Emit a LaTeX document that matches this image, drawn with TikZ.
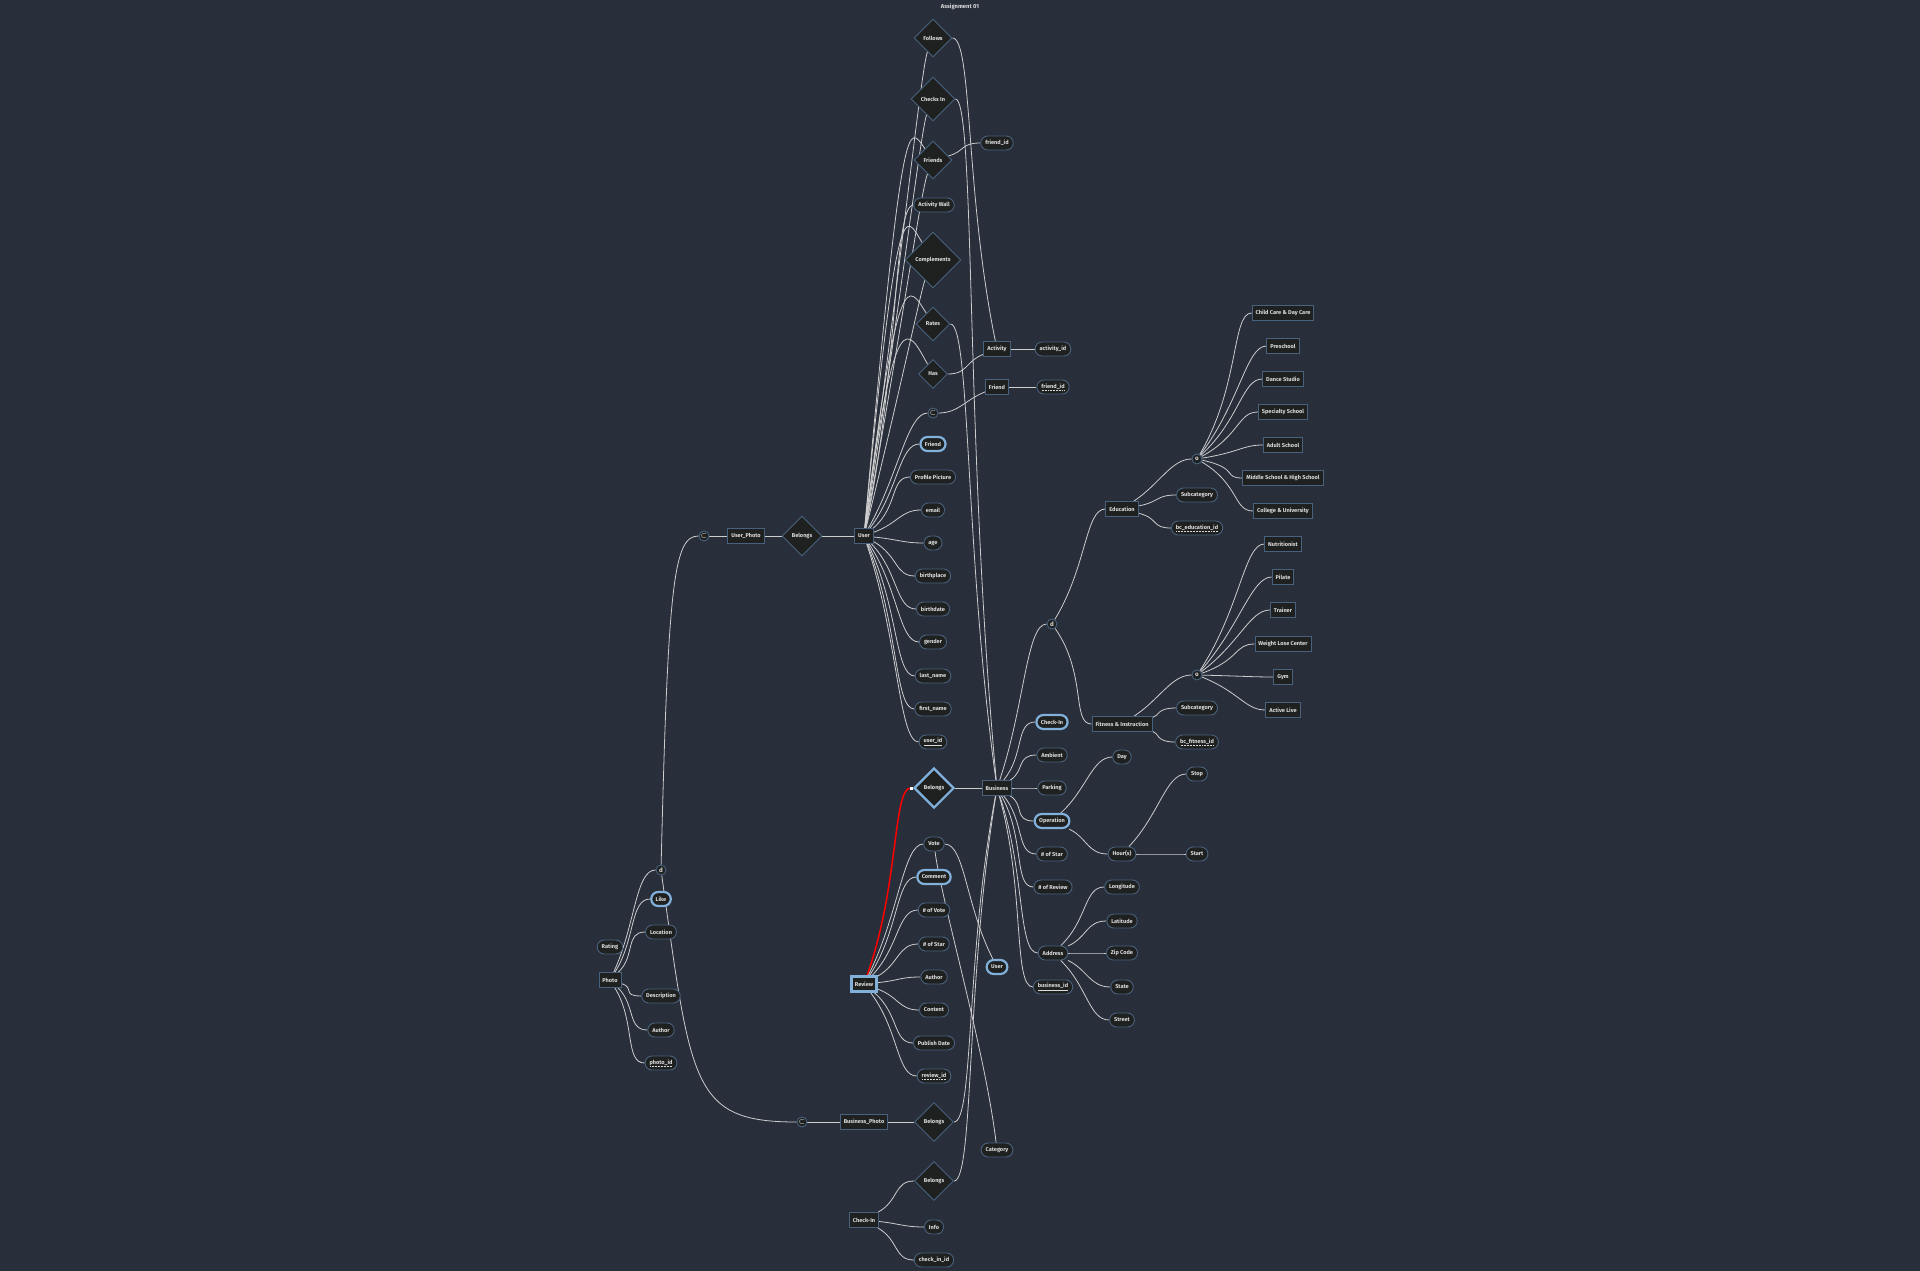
\documentclass[tikz,border=0pt]{standalone}
\usepackage{fontspec}
\setmainfont{Fira Sans}
\usetikzlibrary{shapes.geometric,calc,arrows.meta}
\definecolor{bgcol}{RGB}{41,46,59}
\definecolor{boxfill}{RGB}{31,32,32}
\definecolor{boxline}{RGB}{72,98,126}
\definecolor{hiline}{RGB}{129,177,219}
\definecolor{linkcol}{RGB}{205,205,205}
\definecolor{txtcol}{RGB}{218,218,218}
\pgfdeclarelayer{bglayer}
\pgfdeclarelayer{links}
\pgfsetlayers{bglayer,links,main}
% key underlines
\newcommand{\solidkey}[1]{\underline{#1}}
\newcommand{\dotkey}[1]{\setbox0=\hbox{#1}\rlap{\raisebox{-1.3pt}{\hbox to \wd0{\xleaders\hbox to 1.5pt{\hss\vrule width 0.7pt height 0.35pt\hss}\hfill}}}\box0}
\newcommand{\subsym}{{\boldmath$\subset$}}
\tikzstyle{base}=[fill=boxfill, draw=boxline, line width=0.9pt, text=txtcol, font=\fontsize{5.6}{6}\selectfont\bfseries, inner ysep=0pt]
\tikzstyle{entity}=[base, rectangle, minimum height=15, inner xsep=3.5pt]
\tikzstyle{attr}=[base, rectangle, rounded corners=7pt, minimum height=14, inner xsep=4.5pt]
\tikzstyle{marker}=[base, circle, inner sep=0pt, minimum size=10, font=\fontsize{6.2}{6}\selectfont\bfseries]
\tikzstyle{multi}=[draw=hiline, line width=2.2pt]
\tikzstyle{link}=[draw=linkcol, line width=0.8pt]
\tikzstyle{fanin}=[to path={.. controls ($(\tikztostart)!0.5!(\tikztotarget)$) and ($(\tikztotarget.west)+(-20,0)$) .. (\tikztotarget)}]
\tikzstyle{fanrel}=[to path={.. controls ($(\tikztostart)!0.5!(\tikztotarget)$) and ($(\tikztotarget)+(-12,30)$) .. (\tikztotarget)}]
\tikzstyle{fanout}=[to path={.. controls ($(\tikztostart.east)+(20,0)$) and ($(\tikztostart)!0.5!(\tikztotarget)$) .. (\tikztotarget)}]
\tikzset{rel/.style={base, diamond, inner sep=0pt, minimum width=#1, minimum height=#1}}

\begin{document}
\begin{tikzpicture}[x=1pt, y=-1pt]
  \begin{pgfonlayer}{bglayer}
    \fill[bgcol] (0,0) rectangle (1920,1271);
  \end{pgfonlayer}
  \useasboundingbox (0,0) rectangle (1920,1271);
  \node[text=txtcol, font=\fontsize{5.8}{6}\selectfont\bfseries] (title) at (960,7) {Assignment 01};

  % user and its relationships
  \node[rel=38] (follows) at (933,38) {Follows};
  \node[rel=44] (checksin) at (933,99) {Checks In};
  \node[rel=38] (friends) at (933,160) {Friends};
  \node[attr] (friendid) at (997,143) {friend\_id};
  \node[attr] (actwall) at (934,205) {Activity Wall};
  \node[rel=56] (complements) at (933,260) {Complements};
  \node[rel=34] (rates) at (933,324) {Rates};
  \node[rel=29] (has) at (933,374) {Has};
  \node[entity] (activity) at (997,349) {Activity};
  \node[attr] (activityid) at (1053,349) {activity\_id};
  \node[entity] (friend) at (997,387) {Friend};
  \node[attr] (friendkey) at (1053,387) {\dotkey{friend\_id}};
  \node[marker] (subfriend) at (933,413) {\subsym};
  \node[attr, multi] (friendmv) at (933,444) {Friend};
  \node[attr] (profile) at (933,477) {Profile Picture};
  \node[attr] (email) at (933,510) {email};
  \node[attr] (age) at (933,543) {age};
  \node[attr] (birthplace) at (933,576) {birthplace};
  \node[attr] (birthdate) at (933,609) {birthdate};
  \node[attr] (gender) at (933,642) {gender};
  \node[attr] (lastname) at (933,676) {last\_name};
  \node[attr] (firstname) at (933,709) {first\_name};
  \node[attr] (userid) at (933,742) {\solidkey{user\_id}};
  \node[entity] (user) at (864,536) {User};
  \node[rel=40] (belongsup) at (802,536) {Belongs};
  \node[entity] (userphoto) at (746,536) {User\_Photo};
  \node[marker] (subup) at (704,536) {\subsym};

  % photo
  \node[entity] (photo) at (610,980) {Photo};
  \node[attr] (rating) at (610,947) {Rating};
  \node[marker] (dphoto) at (661,870) {d};
  \node[attr, multi] (like) at (661,899) {Like};
  \node[attr] (location) at (661,932) {Location};
  \node[attr] (description) at (661,996) {Description};
  \node[attr] (pauthor) at (661,1030) {Author};
  \node[attr] (photoid) at (661,1063) {\dotkey{photo\_id}};

  % business photo and check-in
  \node[marker] (subdown) at (802,1122) {\subsym};
  \node[entity] (bphoto) at (864,1122) {Business\_Photo};
  \node[rel=39] (belongsbp) at (934,1122) {Belongs};
  \node[attr] (category) at (997,1150) {Category};
  \node[rel=39] (belongsci) at (934,1181) {Belongs};
  \node[entity] (checkin) at (864,1220) {Check-In};
  \node[attr] (info) at (934,1227) {Info};
  \node[attr] (checkinid) at (934,1260) {check\_in\_id};

  % review
  \node[rel=40, multi] (belongsrv) at (934,788) {Belongs};
  \node[entity, multi] (review) at (864,984) {Review};
  \node[attr] (vote) at (934,844) {Vote};
  \node[attr, multi] (comment) at (934,877) {Comment};
  \node[attr] (numvote) at (934,910) {\# of Vote};
  \node[attr] (numstarrv) at (934,944) {\# of Star};
  \node[attr] (rauthor) at (934,977) {Author};
  \node[attr] (content) at (934,1010) {Content};
  \node[attr] (pubdate) at (934,1043) {Publish Date};
  \node[attr] (reviewid) at (934,1076) {\dotkey{review\_id}};
  \node[attr, multi] (uservote) at (997,967) {User};

  % business
  \node[entity] (business) at (997,788) {Business};
  \node[attr, multi] (checkinmv) at (1052,722) {Check-In};
  \node[attr] (ambient) at (1052,755) {Ambient};
  \node[attr] (parking) at (1052,788) {Parking};
  \node[attr, multi] (operation) at (1052,821) {Operation};
  \node[attr] (numstar) at (1052,854) {\# of Star};
  \node[attr] (numreview) at (1053,887) {\# of Review};
  \node[attr] (address) at (1053,953) {Address};
  \node[attr] (businessid) at (1053,987) {\solidkey{business\_id}};
  \node[marker] (dbiz) at (1052,624) {d};
  \node[attr] (day) at (1122,757) {Day};
  \node[attr] (hours) at (1122,854) {Hour(s)};
  \node[attr] (stop) at (1197,774) {Stop};
  \node[attr] (start) at (1197,854) {Start};
  \node[attr] (longitude) at (1122,887) {Longitude};
  \node[attr] (latitude) at (1122,921) {Latitude};
  \node[attr] (zip) at (1122,953) {Zip Code};
  \node[attr] (state) at (1122,987) {State};
  \node[attr] (street) at (1122,1020) {Street};

  % education
  \node[entity] (education) at (1122,509) {Education};
  \node[marker] (oedu) at (1197,459) {o};
  \node[attr] (subedu) at (1197,495) {Subcategory};
  \node[attr] (bcedu) at (1197,528) {\dotkey{bc\_education\_id}};
  \node[entity] (childcare) at (1283,313) {Child Care \& Day Care};
  \node[entity] (preschool) at (1283,346) {Preschool};
  \node[entity] (dance) at (1283,379) {Dance Studio};
  \node[entity] (specialty) at (1283,412) {Specialty School};
  \node[entity] (adult) at (1283,445) {Adult School};
  \node[entity] (middle) at (1283,478) {Middle School \& High School};
  \node[entity] (college) at (1283,511) {College \& University};

  % fitness
  \node[entity] (fitness) at (1122,724) {Fitness \& Instruction};
  \node[marker] (ofit) at (1197,675) {o};
  \node[attr] (subfit) at (1197,708) {Subcategory};
  \node[attr] (bcfit) at (1197,742) {\dotkey{bc\_fitness\_id}};
  \node[entity] (nutri) at (1283,544) {Nutritionist};
  \node[entity] (pilate) at (1283,577) {Pilate};
  \node[entity] (trainer) at (1283,610) {Trainer};
  \node[entity] (weight) at (1283,644) {Weight Lose Center};
  \node[entity] (gym) at (1283,677) {Gym};
  \node[entity] (active) at (1283,710) {Active Live};

  \begin{pgfonlayer}{links}
  \begin{scope}[every path/.style={link}]
    % user side
    \draw (user) to[fanrel] (follows);
    \draw (user) to[fanrel] (checksin);
    \draw (user) to[fanrel] (friends);
    \draw (user) .. controls ($(friends)+(-30,-60)$) and ($(friends)+(-25,-35)$) .. (friends);
    \draw (user) to[fanin] (actwall);
    \draw (user) to[fanrel] (complements);
    \draw (user) .. controls ($(complements)+(-35,-80)$) and ($(complements)+(-28,-45)$) .. (complements);
    \draw (user) .. controls ($(rates)+(-35,-65)$) and ($(rates)+(-25,-40)$) .. (rates);
    \draw (user) .. controls ($(has)+(-38,-80)$) and ($(has)+(-25,-45)$) .. (has);
    \draw (user) to[fanin] (subfriend);
    \draw (user) to[fanin] (friendmv);
    \draw (user) to[fanin] (profile);
    \draw (user) to[fanin] (email);
    \draw (user) to[fanin] (age);
    \draw (user) to[fanin] (birthplace);
    \draw (user) to[fanin] (birthdate);
    \draw (user) to[fanin] (gender);
    \draw (user) to[fanin] (lastname);
    \draw (user) to[fanin] (firstname);
    \draw (user) to[fanin] (userid);
    \draw (friends) to[fanin] (friendid);
    \draw (follows) to[fanout] (activity);
    \draw (has) to[fanout] (activity);
    \draw (checksin) to[fanout] (business);
    \draw (rates) to[fanout] (business);
    \draw (subfriend) to[fanout] (friend);
    \draw (friend) -- (friendkey);
    \draw (activity) -- (activityid);
    \draw (subup) -- (userphoto);
    \draw (userphoto) -- (belongsup);
    \draw (belongsup) -- (user);

    % photo side
    \draw (photo) to[fanin] (dphoto);
    \draw (photo) to[fanin] (like);
    \draw (photo) to[fanin] (location);
    \draw (photo) to[fanin] (description);
    \draw (photo) to[fanin] (pauthor);
    \draw (photo) to[fanin] (photoid);
    \draw (dphoto) .. controls ($(dphoto)+(7,-290)$) and ($(subup)+(-30,0)$) .. (subup);
    \draw (dphoto) .. controls ($(dphoto)+(30,215)$) and ($(subdown)+(-110,0)$) .. (subdown);
    \draw (subdown) -- (bphoto);
    \draw (bphoto) -- (belongsbp);
    \draw (belongsbp) to[fanout] (business);
    \draw (checkin) to[fanin] (belongsci);
    \draw (belongsci) to[fanout] (business);
    \draw (checkin) to[fanin] (info);
    \draw (checkin) to[fanin] (checkinid);

    % review
    \draw[draw=red, line width=1.5pt, -{Square[length=3pt,width=3pt,color=white,fill=white]}] (review) to[fanin] (belongsrv);
    \draw (belongsrv) -- (business);
    \draw (review) to[fanin] (vote);
    \draw (review) to[fanin] (comment);
    \draw (review) to[fanin] (numvote);
    \draw (review) to[fanin] (numstarrv);
    \draw (review) to[fanin] (rauthor);
    \draw (review) to[fanin] (content);
    \draw (review) to[fanin] (pubdate);
    \draw (review) to[fanin] (reviewid);
    \draw (vote) to[fanout] (uservote);
    \draw (vote) .. controls ($(vote)+(8,60)$) and ($(category)+(-12,-100)$) .. (category);

    % business
    \draw (business) to[fanin] (dbiz);
    \draw (business) to[fanin] (checkinmv);
    \draw (business) to[fanin] (ambient);
    \draw (business) to[fanin] (parking);
    \draw (business) to[fanin] (operation);
    \draw (business) to[fanin] (numstar);
    \draw (business) to[fanin] (numreview);
    \draw (business) to[fanin] (address);
    \draw (business) to[fanin] (businessid);
    \draw (operation) to[fanin] (day);
    \draw (operation) to[fanin] (hours);
    \draw (hours) to[fanin] (stop);
    \draw (hours) to[fanin] (start);
    \draw (address) to[fanin] (longitude);
    \draw (address) to[fanin] (latitude);
    \draw (address) to[fanin] (zip);
    \draw (address) to[fanin] (state);
    \draw (address) to[fanin] (street);

    % categories
    \draw (dbiz) to[fanin] (education);
    \draw (dbiz) to[fanin] (fitness);
    \draw (education) to[fanin] (oedu);
    \draw (education) to[fanin] (subedu);
    \draw (education) to[fanin] (bcedu);
    \draw (oedu) to[fanin] (childcare);
    \draw (oedu) to[fanin] (preschool);
    \draw (oedu) to[fanin] (dance);
    \draw (oedu) to[fanin] (specialty);
    \draw (oedu) to[fanin] (adult);
    \draw (oedu) to[fanin] (middle);
    \draw (oedu) to[fanin] (college);
    \draw (fitness) to[fanin] (ofit);
    \draw (fitness) to[fanin] (subfit);
    \draw (fitness) to[fanin] (bcfit);
    \draw (ofit) to[fanin] (nutri);
    \draw (ofit) to[fanin] (pilate);
    \draw (ofit) to[fanin] (trainer);
    \draw (ofit) to[fanin] (weight);
    \draw (ofit) to[fanin] (gym);
    \draw (ofit) to[fanin] (active);
  \end{scope}
  \end{pgfonlayer}
\end{tikzpicture}
\end{document}
